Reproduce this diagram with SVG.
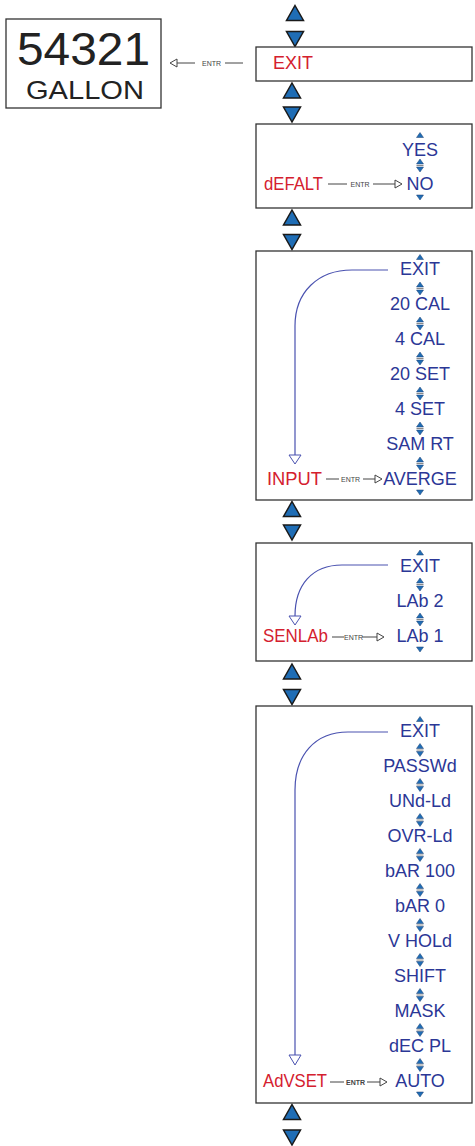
<svg xmlns="http://www.w3.org/2000/svg" xmlns:xlink="http://www.w3.org/1999/xlink" width="475" height="1146" viewBox="0 0 475 1146">
<style>
.box{fill:#fff;stroke:#333;stroke-width:1.3}
.red{font-family:"Liberation Sans",Arial,sans-serif;font-size:18px;fill:#d4202e}
.blu{font-family:"Liberation Sans",Arial,sans-serif;font-size:18px;fill:#2b3796;text-anchor:middle}
.lcd{font-family:"Liberation Sans",Arial,sans-serif;fill:#222}
.entr{font-family:"Liberation Sans",Arial,sans-serif;font-size:7px;fill:#444;text-anchor:middle}
.ln{stroke:#444;stroke-width:1;fill:none}
.oh{fill:#fff;stroke:#444;stroke-width:1}
.crv{stroke:#4a52b0;stroke-width:1.2;fill:none}
.ch{fill:#fff;stroke:#4a52b0;stroke-width:1}
.big{fill:#1f6db5;stroke:#1a1a1a;stroke-width:1.5}
.sm{fill:#1f6db5;stroke:#1c3f70;stroke-width:0.5}
</style>
<defs>
<g id="bigUp"><polygon class="big" points="0,-7.5 8.5,7.5 -8.5,7.5"/></g>
<g id="bigDn"><polygon class="big" points="-8.5,-7.5 8.5,-7.5 0,7.5"/></g>
<g id="dbl"><polygon class="sm" points="0,-6.5 3.5,-1.5 -3.5,-1.5"/><line x1="-3.5" y1="0" x2="3.5" y2="0" stroke="#888" stroke-width="1"/><polygon class="sm" points="-3.5,1.5 3.5,1.5 0,6.5"/></g>
<g id="smUp"><polygon class="sm" points="0,-2.5 3.5,2.5 -3.5,2.5"/></g>
<g id="smDn"><polygon class="sm" points="-3.5,-2.5 3.5,-2.5 0,2.5"/></g>
</defs>

<g id="nav-arrows">
<use xlink:href="#bigUp" x="295" y="13"/><use xlink:href="#bigDn" x="295" y="39"/>
<use xlink:href="#bigUp" x="292" y="90.5"/><use xlink:href="#bigDn" x="292" y="114.5"/>
<use xlink:href="#bigUp" x="292" y="217.5"/><use xlink:href="#bigDn" x="292" y="242"/>
<use xlink:href="#bigUp" x="292" y="509"/><use xlink:href="#bigDn" x="292" y="532.5"/>
<use xlink:href="#bigUp" x="292" y="671.5"/><use xlink:href="#bigDn" x="292" y="697"/>
<use xlink:href="#bigUp" x="292" y="1112"/><use xlink:href="#bigDn" x="292" y="1137.5"/>
</g>

<g id="display">
<rect class="box" x="6" y="19" width="155" height="89" stroke-width="1.6"/>
<text class="lcd" x="17" y="64.5" font-size="46" textLength="133" lengthAdjust="spacingAndGlyphs">54321</text>
<text class="lcd" x="26" y="98.5" font-size="26" textLength="118" lengthAdjust="spacingAndGlyphs">GALLON</text>
</g>

<g id="exit-menu">
<rect class="box" x="256" y="47" width="216" height="34"/>
<text class="red" x="273" y="69">EXIT</text>
</g>

<g id="default-menu">
<rect class="box" x="256" y="124" width="216" height="84"/>
<text class="red" x="264" y="190" textLength="59" lengthAdjust="spacingAndGlyphs">dEFALT</text>
<use xlink:href="#smUp" x="420" y="135"/>
<text class="blu" x="420" y="156">YES</text>
<use xlink:href="#dbl" x="420" y="165.5"/>
<text class="blu" x="420" y="190">NO</text>
<use xlink:href="#smDn" x="420" y="197.5"/>
</g>

<g id="input-menu">
<rect class="box" x="256" y="251" width="216" height="249"/>
<text class="red" x="267" y="485" textLength="55" lengthAdjust="spacingAndGlyphs">INPUT</text>
<use xlink:href="#smUp" x="420" y="257"/>
<text class="blu" x="420" y="275">EXIT</text>
<use xlink:href="#dbl" x="420" y="288.5"/>
<text class="blu" x="420" y="310">20 CAL</text>
<use xlink:href="#dbl" x="420" y="323.5"/>
<text class="blu" x="420" y="345">4 CAL</text>
<use xlink:href="#dbl" x="420" y="358.5"/>
<text class="blu" x="420" y="380">20 SET</text>
<use xlink:href="#dbl" x="420" y="393.5"/>
<text class="blu" x="420" y="415">4 SET</text>
<use xlink:href="#dbl" x="420" y="428.5"/>
<text class="blu" x="420" y="450">SAM RT</text>
<use xlink:href="#dbl" x="420" y="463.5"/>
<text class="blu" x="420" y="485">AVERGE</text>
<use xlink:href="#smDn" x="420" y="492.5"/>
</g>

<g id="senlab-menu">
<rect class="box" x="256" y="543" width="216" height="118"/>
<text class="red" x="263" y="642" textLength="65" lengthAdjust="spacingAndGlyphs">SENLAb</text>
<use xlink:href="#smUp" x="420" y="552.5"/>
<text class="blu" x="420" y="572">EXIT</text>
<use xlink:href="#dbl" x="420" y="584.5"/>
<text class="blu" x="420" y="607">LAb 2</text>
<use xlink:href="#dbl" x="420" y="619.5"/>
<text class="blu" x="420" y="642">LAb 1</text>
<use xlink:href="#smDn" x="420" y="649.5"/>
</g>

<g id="advset-menu">
<rect class="box" x="256" y="706" width="216" height="397"/>
<text class="red" x="263" y="1087" textLength="64" lengthAdjust="spacingAndGlyphs">AdVSET</text>
<use xlink:href="#smUp" x="420" y="719"/>
<text class="blu" x="420" y="737">EXIT</text>
<use xlink:href="#dbl" x="420" y="750"/>
<text class="blu" x="420" y="772">PASSWd</text>
<use xlink:href="#dbl" x="420" y="785"/>
<text class="blu" x="420" y="807">UNd-Ld</text>
<use xlink:href="#dbl" x="420" y="820"/>
<text class="blu" x="420" y="842">OVR-Ld</text>
<use xlink:href="#dbl" x="420" y="855"/>
<text class="blu" x="420" y="877">bAR 100</text>
<use xlink:href="#dbl" x="420" y="890"/>
<text class="blu" x="420" y="912">bAR 0</text>
<use xlink:href="#dbl" x="420" y="925"/>
<text class="blu" x="420" y="947">V HOLd</text>
<use xlink:href="#dbl" x="420" y="960"/>
<text class="blu" x="420" y="982">SHIFT</text>
<use xlink:href="#dbl" x="420" y="995"/>
<text class="blu" x="420" y="1017">MASK</text>
<use xlink:href="#dbl" x="420" y="1030"/>
<text class="blu" x="420" y="1052">dEC PL</text>
<use xlink:href="#dbl" x="420" y="1065"/>
<text class="blu" x="420" y="1087">AUTO</text>
<use xlink:href="#smDn" x="420" y="1094.5"/>
</g>

<g id="connectors">
<!-- exit to display -->
<line class="ln" x1="177" y1="63" x2="195" y2="63"/>
<polygon class="oh" points="170,63 177,59 177,67"/>
<text class="entr" x="211.5" y="65.5">ENTR</text>
<line class="ln" x1="225" y1="63" x2="243" y2="63"/>
<!-- default -->
<line class="ln" x1="328" y1="184" x2="347" y2="184"/>
<text class="entr" x="360" y="186.5">ENTR</text>
<line class="ln" x1="373" y1="184" x2="395" y2="184"/>
<polygon class="oh" points="402,184 395,180 395,188"/>
<!-- input -->
<line class="ln" x1="326" y1="479" x2="339" y2="479"/>
<text class="entr" x="350.5" y="481.5">ENTR</text>
<line class="ln" x1="363" y1="479" x2="375" y2="479"/>
<polygon class="oh" points="382,479 375,475 375,483"/>
<path class="crv" d="M388,270 H352 C318,270 295,292 295,326 V455"/>
<polygon class="ch" points="289,455 301,455 295,464"/>
<!-- senlab -->
<line class="ln" x1="332" y1="637" x2="344" y2="637"/>
<text class="entr" x="353.5" y="639.5">ENTR</text>
<line class="ln" x1="362" y1="637" x2="377" y2="637"/>
<polygon class="oh" points="384,637 377,633 377,641"/>
<path class="crv" d="M388,565 H342 C312,565 295,585 295,616"/>
<polygon class="ch" points="289,616 301,616 295,625"/>
<!-- advset -->
<line class="ln" x1="330" y1="1082" x2="344" y2="1082" stroke-width="1.6" stroke="#222"/>
<text class="entr" x="355.5" y="1084.5" font-weight="bold" fill="#222">ENTR</text>
<line class="ln" x1="367" y1="1082" x2="380" y2="1082" stroke-width="1.6" stroke="#222"/>
<polygon class="oh" points="387,1082 380,1078 380,1086" stroke="#222"/>
<path class="crv" d="M388,732 H348 C315,732 295,755 295,790 V1055"/>
<polygon class="ch" points="289,1055 301,1055 295,1065"/>
</g>
</svg>
